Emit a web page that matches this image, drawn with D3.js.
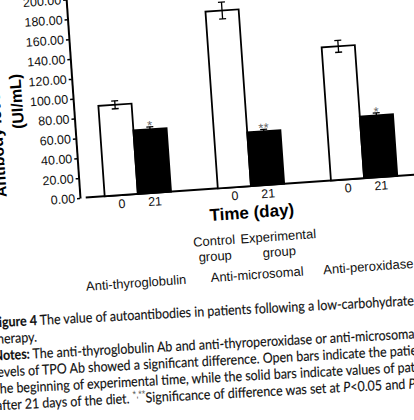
<!DOCTYPE html>
<html>
<head>
<meta charset="utf-8">
<script src="https://cdn.jsdelivr.net/npm/d3@7"></script>
<style>
  html, body { margin: 0; padding: 0; background: #ffffff; }
  svg { display: block; }
</style>
</head>
<body>
<svg id="chart" width="414" height="420"></svg>
<script>
// ---------- data ----------
const groups = ["Anti-thyroglobulin", "Anti-microsomal", "Anti-peroxidase"];
const days = ["0", "21"];
const day0Values = [91, 178, 134];
const day21Values = [64, 54, 62];
const day0Errors = [4, 8.5, 6];
const day21Errors = [2.5, 2, 2.5];
const significance = ["*", "**", "*"];
const yTicks = [0, 20, 40, 60, 80, 100, 120, 140, 160, 180, 200];
const legendLabels = [["Control", "group"], ["Experimental", "group"]];
const xTitle = "Time (day)";
const yTitleLines = ["Antibody level", "(UI/mL)"];
const captionLines = [
  [{t: "Figure 4", b: true}, {t: " The value of autoantibodies in patients following a low-carbohydrate"}],
  [{t: "therapy."}],
  [{t: "Notes:", b: true}, {t: " The anti-thyroglobulin Ab and anti-thyroperoxidase or anti-microsomal"}],
  [{t: "levels of TPO Ab showed a significant difference. Open bars indicate the patients\u2019"}],
  [{t: "the beginning of experimental time, while the solid bars indicate values of patients"}],
  [{t: "after 21 days of the diet. "}, {t: "*,**", sup: true}, {t: "Significance of difference was set at "}, {t: "P", i: true}, {t: "<0.05 and "}, {t: "P", i: true}, {t: "<0.01"}]
];

// ---------- build ----------
const svg = d3.select("#chart");
const sansFont = "Liberation Sans, Arial, Helvetica, sans-serif";

const g = svg.append("g").attr("transform", "translate(80,198) rotate(-4)");

const y = d3.scaleLinear().domain([0, 200]).range([0, -199]);
const x0 = d3.scaleBand().domain(groups).range([24.75, 318.05]).paddingInner(0.4136).paddingOuter(0);
const x1 = d3.scaleBand().domain(days).range([0, x0.bandwidth()]);

// y axis
const yAxis = d3.axisLeft(y).tickValues(yTicks).tickFormat(d3.format(".2f"))
  .tickSize(3).tickSizeOuter(0).tickPadding(2);
const ya = g.append("g").call(yAxis);
ya.select(".domain").attr("stroke", "#000").attr("stroke-width", 2);
ya.selectAll(".tick line").attr("stroke", "#000").attr("stroke-width", 1.5);
ya.selectAll(".tick text").attr("font-family", sansFont).attr("font-size", 12.5).attr("fill", "#111");
g.append("line").attr("x1", 0).attr("x2", 0).attr("y1", y(200)).attr("y2", y(206))
  .attr("stroke", "#000").attr("stroke-width", 2);

// x axis baseline
g.append("line")
  .attr("x1", x0.range()[0] - 19).attr("x2", x0.range()[1] + 45)
  .attr("y1", y(0)).attr("y2", y(0))
  .attr("stroke", "#000").attr("stroke-width", 2);

// bars
const rows = [];
groups.forEach((grp, i) => {
  rows.push({grp, day: days[0], v: day0Values[i], e: day0Errors[i], fill: "#fff", sig: null});
  rows.push({grp, day: days[1], v: day21Values[i], e: day21Errors[i], fill: "#000", sig: significance[i]});
});

const barW = x1.bandwidth();
g.selectAll("rect.bar").data(rows).join("rect")
  .attr("class", "bar")
  .attr("x", d => x0(d.grp) + x1(d.day))
  .attr("y", d => y(d.v))
  .attr("width", barW)
  .attr("height", d => y(0) - y(d.v))
  .attr("fill", d => d.fill)
  .attr("stroke", "#000")
  .attr("stroke-width", 1.8);

// error bars
const eb = g.selectAll("g.err").data(rows).join("g").attr("class", "err");
const cx = d => x0(d.grp) + x1(d.day) + barW / 2;
eb.append("line").attr("x1", cx).attr("x2", cx)
  .attr("y1", d => y(d.v - d.e)).attr("y2", d => y(d.v + d.e))
  .attr("stroke", "#000").attr("stroke-width", 1.3);
eb.append("line").attr("x1", d => cx(d) - 3.5).attr("x2", d => cx(d) + 3.5)
  .attr("y1", d => y(d.v + d.e)).attr("y2", d => y(d.v + d.e))
  .attr("stroke", "#000").attr("stroke-width", 1.3);
eb.append("line").attr("x1", d => cx(d) - 3.5).attr("x2", d => cx(d) + 3.5)
  .attr("y1", d => y(d.v - d.e)).attr("y2", d => y(d.v - d.e))
  .attr("stroke", "#000").attr("stroke-width", 1.3);

// significance stars
g.selectAll("text.sig").data(rows.filter(d => d.sig)).join("text")
  .attr("class", "sig")
  .attr("x", cx)
  .attr("y", d => y(d.v + d.e) + 3)
  .attr("text-anchor", "middle")
  .attr("font-family", sansFont).attr("font-size", 13)
  .attr("fill", "#666")
  .text(d => d.sig);

// day tick labels under each group
groups.forEach(grp => {
  const ax = g.append("g").attr("transform", `translate(${x0(grp)},${y(0)})`)
    .call(d3.axisBottom(x1).tickSize(0).tickPadding(4));
  ax.select(".domain").remove();
  ax.selectAll("text").attr("font-family", sansFont).attr("font-size", 12.5).attr("fill", "#111");
});

// x title
const axisMid = (x0.range()[0] + x0.range()[1]) / 2;
g.append("text").attr("x", axisMid - 1).attr("y", 32)
  .attr("text-anchor", "middle")
  .attr("font-family", sansFont).attr("font-weight", "bold").attr("font-size", 17)
  .attr("fill", "#000").text(xTitle);

// legend-like labels under middle group
const midG = groups[1];
const legendShift = [-24, 7];
legendLabels.forEach((lines, k) => {
  const lx = x0(midG) + x1(days[k]) + barW / 2 + legendShift[k];
  const t = g.append("text").attr("text-anchor", "middle")
    .attr("font-family", sansFont).attr("font-size", 13).attr("fill", "#111");
  lines.forEach((ln, j) => {
    t.append("tspan").attr("x", lx).attr("y", 56.5 + j * 15.5).text(ln);
  });
});

// category labels
const catShift = [-8, 0, -2];
g.selectAll("text.cat").data(groups).join("text")
  .attr("class", "cat")
  .attr("x", (d, i) => x0(d) + x0.bandwidth() / 2 + catShift[i])
  .attr("y", 93)
  .attr("text-anchor", "middle")
  .attr("font-family", sansFont).attr("font-size", 13).attr("fill", "#111")
  .text(d => d);

// y title
g.append("text").attr("transform", "translate(-73,-6) rotate(-90)")
  .attr("text-anchor", "start")
  .attr("font-family", sansFont).attr("font-weight", "bold").attr("font-size", 16)
  .attr("fill", "#000").text(yTitleLines[0]);
g.append("text").attr("transform", "translate(-51,-100.7) rotate(-90)")
  .attr("text-anchor", "middle")
  .attr("font-family", sansFont).attr("font-weight", "bold").attr("font-size", 16)
  .attr("fill", "#000").text(yTitleLines[1]);

// ---------- caption ----------
const capFont = "Lato, 'Open Sans', sans-serif";
const cap = svg.append("g");
const capInner = cap.append("g");
captionLines.forEach((parts, i) => {
  const t = capInner.append("text").attr("x", -9).attr("y", i * 16.6)
    .attr("font-family", capFont).attr("font-size", 14).attr("fill", "#111")
    .attr("stroke", "#111").attr("stroke-width", 0.15);
  parts.forEach(p => {
    const s = t.append("tspan").text(p.t);
    if (p.b) s.attr("font-weight", "bold");
    if (p.i) s.attr("font-style", "italic");
    if (p.sup) s.attr("font-family", sansFont).attr("font-size", 10).attr("baseline-shift", "super")
      .attr("fill", "#555").attr("stroke", "none");
  });
});
const firstW = capInner.select("text").node().getComputedTextLength();
const sx = 423 / firstW;
cap.attr("transform", `translate(0,327) rotate(-3) scale(${sx},1)`);
</script>
</body>
</html>
